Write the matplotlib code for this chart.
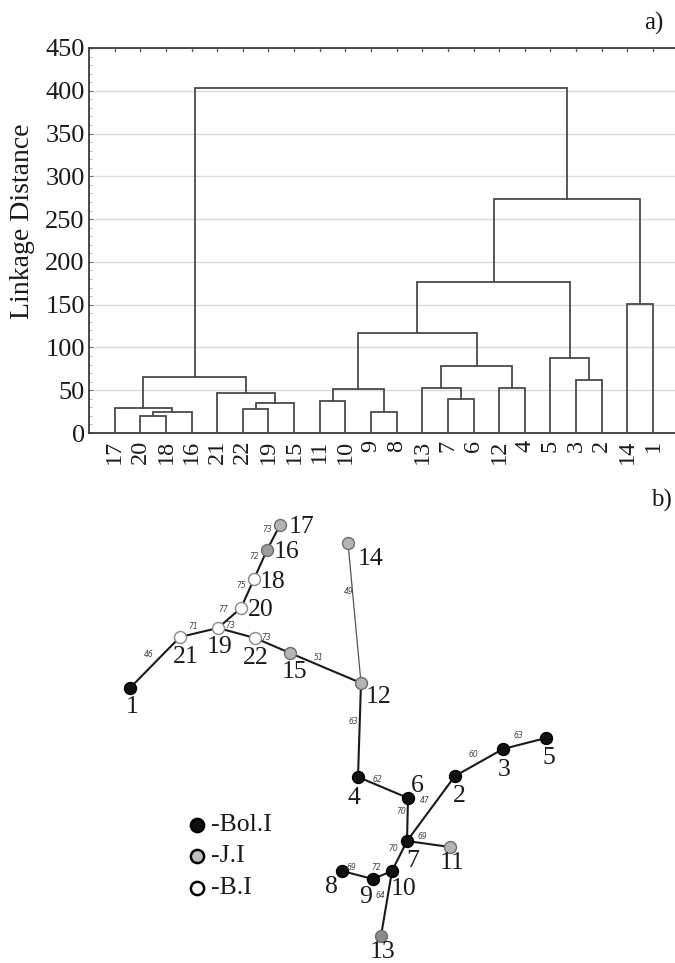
import matplotlib
matplotlib.use("Agg")
import matplotlib.pyplot as plt
from matplotlib.ticker import MultipleLocator

# ---------------- data: dendrogram (a) ----------------
leaf_order = [17, 20, 18, 16, 21, 22, 19, 15, 11, 10, 9, 8, 13, 7, 6, 12, 4, 5, 3, 2, 14, 1]
# merges: (left child, right child, height); children are leaf labels (int) or "m<k>" for merge k
merges = [
    (20, 18, 20.0),        # m0
    ("m0", 16, 24.0),      # m1
    (17, "m1", 29.0),      # m2
    (22, 19, 27.5),        # m3
    ("m3", 15, 34.5),      # m4
    (21, "m4", 47.0),      # m5
    ("m2", "m5", 65.5),    # m6
    (11, 10, 37.0),        # m7
    (9, 8, 24.0),          # m8
    ("m7", "m8", 52.0),    # m9
    (7, 6, 40.0),          # m10
    (13, "m10", 52.5),     # m11
    (12, 4, 53.0),         # m12
    ("m11", "m12", 78.0),  # m13
    ("m9", "m13", 117.0),  # m14
    (3, 2, 62.0),          # m15
    (5, "m15", 88.0),      # m16
    ("m14", "m16", 176.0), # m17
    (14, 1, 151.0),        # m18
    ("m17", "m18", 273.0), # m19
    ("m6", "m19", 403.0),  # m20
]
y_ticks = [0, 50, 100, 150, 200, 250, 300, 350, 400, 450]

# ---------------- data: network (b) ----------------
node_ids = [1, 2, 3, 4, 5, 6, 7, 8, 9, 10, 11, 12, 13, 14, 15, 16, 17, 18, 19, 20, 21, 22]
node_x = [130, 455, 503, 358, 546, 408, 407, 342, 373, 392, 450, 361, 381, 348, 290, 267, 280, 254, 218, 241, 180, 255]
node_y = [688, 776, 749, 777, 738, 798, 841, 871, 879, 871, 847, 683, 936, 543, 653, 550, 525, 579, 628, 608, 637, 638]
node_group = ["Bol.I", "Bol.I", "Bol.I", "Bol.I", "Bol.I", "Bol.I", "Bol.I", "Bol.I", "Bol.I", "Bol.I",
              "J.I", "J.I", "J.I", "J.I", "J.I", "J.I", "J.I",
              "B.I", "B.I", "B.I", "B.I", "B.I"]
edge_from = [1, 21, 19, 20, 18, 16, 19, 22, 15, 14, 12, 4, 6, 7, 2, 3, 7, 7, 10, 9, 10]
edge_to = [21, 19, 20, 18, 16, 17, 22, 15, 12, 12, 4, 6, 7, 2, 3, 5, 11, 10, 9, 8, 13]
edge_weight = [46, 71, 77, 75, 72, 73, 73, 73, 51, 49, 63, 62, 70, 47, 60, 63, 69, 70, 72, 69, 64]
legend_labels = ["-Bol.I", "-J.I", "-B.I"]

# ---------------- styles ----------------
SERIF = ["Liberation Serif", "DejaVu Serif"]
LINE_C = "#4a4a4a"
group_face = {"Bol.I": "#111111", "J.I": "#b4b4b4", "B.I": "#ffffff"}
group_edge = {"Bol.I": "#000000", "J.I": "#6e6e6e", "B.I": "#8a8a8a"}
face_override = {13: "#8a8a8a", 16: "#9c9c9c"}
label_offset = {17: (22, 2), 16: (20, 2), 18: (19, 3), 20: (20, 2), 19: (2, 19), 21: (6, 20),
                22: (1, 20), 15: (4, 19), 12: (18, 14), 14: (23, 16), 1: (2, 19), 4: (-4, 21),
                6: (9, -12), 2: (4, 20), 3: (1, 21), 5: (3, 20), 7: (6, 20), 11: (2, 16),
                10: (12, 18), 9: (-7, 18), 8: (-11, 16), 13: (2, 16)}
weight_offset_default = (-6, -8)
weight_offset = {(14, 12): (-6, -21), (15, 12): (-7, -10), (19, 20): (-6, -9), (21, 19): (-6, -6)}

W, H = 675, 963
fig = plt.figure(figsize=(W / 100, H / 100), dpi=100)
fig.patch.set_facecolor("white")

# ================= (a) dendrogram =================
ax_left, ax_right, ax_top, ax_bot = 89, 678.6, 48, 433
ax1 = fig.add_axes([ax_left / W, 1 - ax_bot / H, (ax_right - ax_left) / W, (ax_bot - ax_top) / H])

pos = {}
hgt = {}
for i, lab in enumerate(leaf_order):
    pos[lab] = i + 1
    hgt[lab] = 0.0
for k, (a, b, h) in enumerate(merges):
    xa, xb = pos[a], pos[b]
    ya, yb = hgt[a], hgt[b]
    ax1.plot([xa, xa, xb, xb], [ya, h, h, yb], color=LINE_C, lw=1.3, solid_joinstyle="miter",
             zorder=3)
    pos["m%d" % k] = (xa + xb) / 2.0
    hgt["m%d" % k] = h

ax1.set_xlim(0, len(leaf_order) + 1)
ax1.set_ylim(0, 450)
ax1.set_yticks(y_ticks)
ax1.set_yticklabels([str(v) for v in y_ticks], fontfamily=SERIF, fontsize=19, color="#1a1a1a")
ax1.set_xticks(range(1, len(leaf_order) + 1))
ax1.set_xticklabels([str(v) for v in leaf_order], rotation=90, fontfamily=SERIF, fontsize=17.5,
                    color="#1a1a1a")
ax1.yaxis.set_minor_locator(MultipleLocator(10))
ax1.tick_params(axis="y", which="major", direction="in", length=3, pad=3, color="#777777")
ax1.tick_params(axis="y", which="minor", direction="in", length=2, color="#aaaaaa")
ax1.tick_params(axis="x", which="major", direction="in", length=0, pad=5, top=True)
ax1.grid(axis="y", color="#d9d9d9", lw=1.0, zorder=0)
ax1.set_axisbelow(True)
for side in ["left", "bottom", "top"]:
    ax1.spines[side].set_color("#3a3a3a")
    ax1.spines[side].set_linewidth(1.3)
ax1.spines["right"].set_visible(False)
ax1.set_ylabel("Linkage Distance", fontfamily=SERIF, fontsize=20, color="#1a1a1a")
ax1.yaxis.set_label_coords(-0.092, 0.55)
# small tick marks along the top spine at leaf positions
for i in range(1, len(leaf_order) + 1):
    ax1.plot([i, i], [450, 446], color="#555555", lw=0.9, clip_on=False, zorder=4)

fig.text(654 / W, 1 - 23 / H, "a)", fontfamily=SERIF, fontsize=18, ha="center", va="center",
         color="#1a1a1a")
fig.text(661 / W, 1 - 500 / H, "b)", fontfamily=SERIF, fontsize=18, ha="center", va="center",
         color="#1a1a1a")

# ================= (b) network =================
top_px = 473
ax2 = fig.add_axes([0, 0, 1, (H - top_px) / H])
ax2.set_xlim(0, W)
ax2.set_ylim(H, top_px)
ax2.axis("off")

nx = dict(zip(node_ids, node_x))
ny = dict(zip(node_ids, node_y))
ng = dict(zip(node_ids, node_group))

for a, b, wgt in zip(edge_from, edge_to, edge_weight):
    thin = (a, b) == (14, 12)
    ax2.plot([nx[a], nx[b]], [ny[a], ny[b]], color="#555555" if thin else "#1a1a1a",
             lw=0.9 if thin else 1.5, zorder=2, solid_capstyle="round")
    mx, my = (nx[a] + nx[b]) / 2.0, (ny[a] + ny[b]) / 2.0
    dx, dy = weight_offset.get((a, b), weight_offset_default)
    ax2.text(mx + dx, my + dy, str(wgt), fontsize=5.5, style="italic", color="#444444",
             ha="center", va="center", family="DejaVu Sans", zorder=5)

for nid in node_ids:
    g = ng[nid]
    ax2.plot(nx[nid], ny[nid], "o", ms=8.6, mfc=face_override.get(nid, group_face[g]),
             mec=group_edge[g], mew=1.0, zorder=4)
    dx, dy = label_offset[nid]
    ax2.text(nx[nid] + dx, ny[nid] + dy, str(nid), fontfamily=SERIF, fontsize=18.5,
             ha="center", va="center", color="#1a1a1a", zorder=5)

# legend
leg_y = [825, 856, 888]
leg_face = ["#111111", "#c0c0c0", "#ffffff"]
for yy, lab, fc in zip(leg_y, legend_labels, leg_face):
    ax2.plot(197, yy, "o", ms=9.5, mfc=fc, mec="#000000", mew=1.8, zorder=4)
    ax2.text(211, yy, lab, fontfamily=SERIF, fontsize=18.5, ha="left", va="center",
             color="#1a1a1a")

fig.savefig("out.png", dpi=100, facecolor="white")
